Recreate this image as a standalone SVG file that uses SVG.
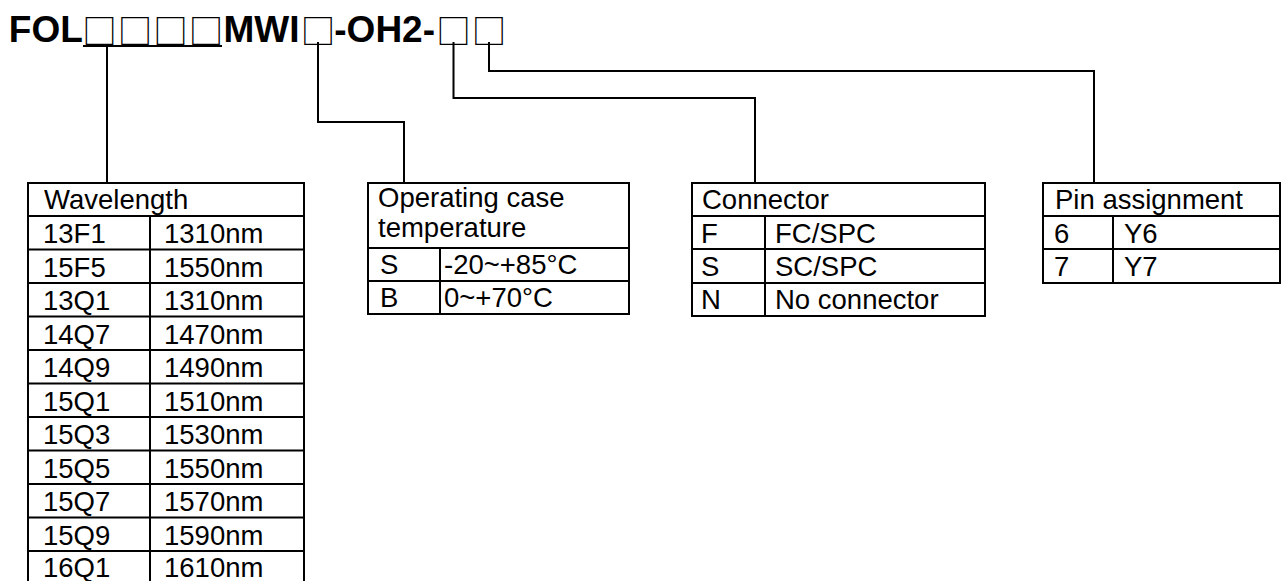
<svg xmlns="http://www.w3.org/2000/svg" width="1282" height="581" viewBox="0 0 1282 581">
<style>
.t{font-family:"Liberation Sans",Arial,sans-serif;font-size:27.5px;fill:#000}
.title{font-family:"Liberation Sans",Arial,sans-serif;font-size:37px;font-weight:bold;fill:#000}
.sq{font-family:"Noto Sans CJK JP","DejaVu Sans",sans-serif;font-size:34.5px;fill:#000;text-anchor:middle}
.ln{fill:none;stroke:#000;stroke-width:2}
.box{fill:#fff;stroke:#000;stroke-width:2}
</style>
<rect width="1282" height="581" fill="#fff"/>
<g id="title">
<text class="title" x="8.8" y="42">FOL</text>
<text class="sq" x="99.5" y="43.5">□</text>
<text class="sq" x="135" y="43.5">□</text>
<text class="sq" x="170.5" y="43.5">□</text>
<text class="sq" x="206" y="43.5">□</text>
<text class="title" x="223.5" y="42">MWI</text>
<text class="sq" x="318" y="43.5">□</text>
<text class="title" x="334.3" y="42">-OH2-</text>
<text class="sq" x="453.5" y="43.5">□</text>
<text class="sq" x="489" y="43.5">□</text>
</g>
<g id="connectors">
<path class="ln" d="M83 46H222"/>
<path class="ln" d="M107 46V183"/>
<path class="ln" d="M318 42V122H404V183"/>
<path class="ln" d="M453.5 42V98H755V183"/>
<path class="ln" d="M489 42V71H1094V183"/>
</g>
<g id="wavelength">
<rect class="box" x="28" y="183" width="276" height="401.5"/>
<path class="ln" d="M28 216H304M28 249.5H304M28 283H304M28 316.5H304M28 350H304M28 383.5H304M28 417H304M28 450.5H304M28 484H304M28 517.5H304M28 551H304M150 216V584.5"/>
<text class="t" x="44" y="209">Wavelength</text>
<text class="t" x="43" y="243">13F1</text><text class="t" x="164" y="243">1310nm</text>
<text class="t" x="43" y="276.5">15F5</text><text class="t" x="164" y="276.5">1550nm</text>
<text class="t" x="43" y="310">13Q1</text><text class="t" x="164" y="310">1310nm</text>
<text class="t" x="43" y="343.5">14Q7</text><text class="t" x="164" y="343.5">1470nm</text>
<text class="t" x="43" y="377">14Q9</text><text class="t" x="164" y="377">1490nm</text>
<text class="t" x="43" y="410.5">15Q1</text><text class="t" x="164" y="410.5">1510nm</text>
<text class="t" x="43" y="444">15Q3</text><text class="t" x="164" y="444">1530nm</text>
<text class="t" x="43" y="477.5">15Q5</text><text class="t" x="164" y="477.5">1550nm</text>
<text class="t" x="43" y="511">15Q7</text><text class="t" x="164" y="511">1570nm</text>
<text class="t" x="43" y="544.5">15Q9</text><text class="t" x="164" y="544.5">1590nm</text>
<text class="t" x="43" y="577">16Q1</text><text class="t" x="164" y="577">1610nm</text>
</g>
<g id="temperature">
<rect class="box" x="368" y="183" width="261" height="131"/>
<path class="ln" d="M368 248H629M368 281H629M440 248V314"/>
<text class="t" x="378" y="207">Operating case</text>
<text class="t" x="378" y="237">temperature</text>
<text class="t" x="380" y="274">S</text><text class="t" x="444" y="274">-20~+85°C</text>
<text class="t" x="380" y="307">B</text><text class="t" x="444" y="307">0~+70°C</text>
</g>
<g id="connector">
<rect class="box" x="692" y="183" width="293" height="133"/>
<path class="ln" d="M692 216H985M692 249H985M692 283H985M765 216V316"/>
<text class="t" x="702" y="209">Connector</text>
<text class="t" x="701" y="243">F</text><text class="t" x="775" y="243">FC/SPC</text>
<text class="t" x="701" y="276">S</text><text class="t" x="775" y="276">SC/SPC</text>
<text class="t" x="701" y="309">N</text><text class="t" x="775" y="309">No connector</text>
</g>
<g id="pin">
<rect class="box" x="1043" y="183" width="237" height="100"/>
<path class="ln" d="M1043 216H1280M1043 249H1280M1113 216V283"/>
<text class="t" x="1055" y="209">Pin assignment</text>
<text class="t" x="1054" y="243">6</text><text class="t" x="1124" y="243">Y6</text>
<text class="t" x="1054" y="276">7</text><text class="t" x="1124" y="276">Y7</text>
</g>
</svg>
